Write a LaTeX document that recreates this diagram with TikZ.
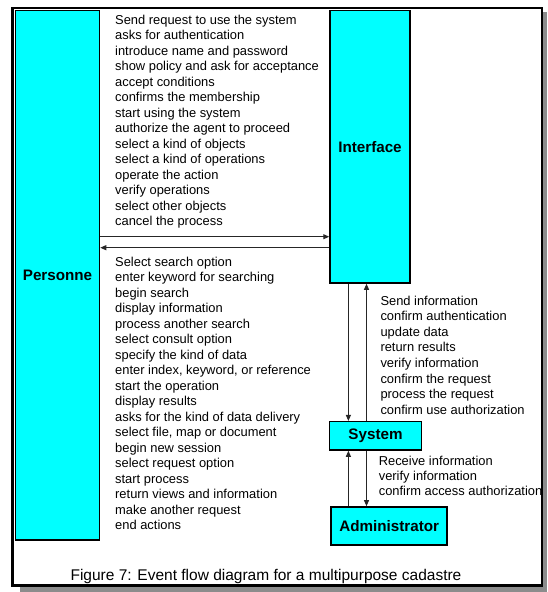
\documentclass[tikz,border=0pt]{standalone}
\usepackage{fontspec}
\setmainfont{Liberation Sans}
\usetikzlibrary{arrows.meta}
\definecolor{aqua}{RGB}{0,255,255}
\definecolor{shadowgray}{RGB}{140,140,140}
\begin{document}
\begin{tikzpicture}[x=1pt,y=-1pt,
  actor/.style={draw=black, line width=1.5pt, fill=aqua, inner sep=0pt,
    font=\fontsize{15.2}{18}\selectfont\bfseries},
  flow/.style={draw=black!85, line width=1pt, -{Triangle[length=6pt,width=5pt]}},
  msgs/.style={anchor=base west, inner sep=0pt},
  frame/.style={line width=2.5pt, draw=black, fill=white},
  shadow/.style={fill=shadowgray}
]
\useasboundingbox (0,0) rectangle (547,592);
\fill[shadow] (20,12) rectangle (547,592);
\draw[frame] (12.6,8) rectangle (542,585.5);

\node[actor, minimum width=84pt, minimum height=529.5pt] (pers) at (57.5,275.25) {Personne};
\node[actor, minimum width=80pt, minimum height=272.5pt] (intf) at (370,146.75) {Interface};
\node[actor, minimum width=92pt, minimum height=28.3pt] (sys) at (375.5,435.85) {System};
\node[actor, minimum width=116pt, minimum height=38pt] (adm) at (389.2,525.9) {Administrator};

\coordinate (r1) at (0,236.7);
\coordinate (r2) at (0,247.7);
\coordinate (c1) at (348.4,0);
\coordinate (c2) at (366.5,0);
\draw[flow] (pers.east |- r1) -- (intf.west |- r1);
\draw[flow] (intf.west |- r2) -- (pers.east |- r2);
\draw[flow] (intf.south -| c1) -- (sys.north -| c1);
\draw[flow] (sys.north -| c2) -- (intf.south -| c2);
\draw[flow] (adm.north -| c1) -- (sys.south -| c1);
\draw[flow] (sys.south -| c2) -- (adm.north -| c2);

\node[msgs, font=\fontsize{12.9}{15.5}\selectfont] (m1) at (115,24.3) {\begin{tabular}[t]{@{}l@{}}
Send request to use the system\\
asks for authentication\\
introduce name and password\\
show policy and ask for acceptance\\
accept conditions\\
confirms the membership\\
start using the system\\
authorize the agent to proceed\\
select a kind of objects\\
select a kind of operations\\
operate the action\\
verify operations\\
select other objects\\
cancel the process\end{tabular}};

\node[msgs, font=\fontsize{12.9}{15.5}\selectfont] (m2) at (115,266) {\begin{tabular}[t]{@{}l@{}}
Select search option\\
enter keyword for searching\\
begin search\\
display information\\
process another search\\
select consult option\\
specify the kind of data\\
enter index, keyword, or reference\\
start the operation\\
display results\\
asks for the kind of data delivery\\
select file, map or document\\
begin new session\\
select request option\\
start process\\
return views and information\\
make another request\\
end actions\end{tabular}};

\node[msgs, font=\fontsize{12.9}{15.6}\selectfont] (m3) at (380.3,305) {\begin{tabular}[t]{@{}l@{}}
Send information\\
confirm authentication\\
update data\\
return results\\
verify information\\
confirm the request\\
process the request\\
confirm use authorization\end{tabular}};

\node[msgs, font=\fontsize{12.9}{15.3}\selectfont] (m4) at (378.6,465) {\begin{tabular}[t]{@{}l@{}}
Receive information\\
verify information\\
confirm access authorization\end{tabular}};

\node[anchor=base, inner sep=0pt, font=\fontsize{15.5}{18}\selectfont] (cap) at (266,580)
  {Figure 7: Event flow diagram for a multipurpose cadastre};
\end{tikzpicture}
\end{document}
